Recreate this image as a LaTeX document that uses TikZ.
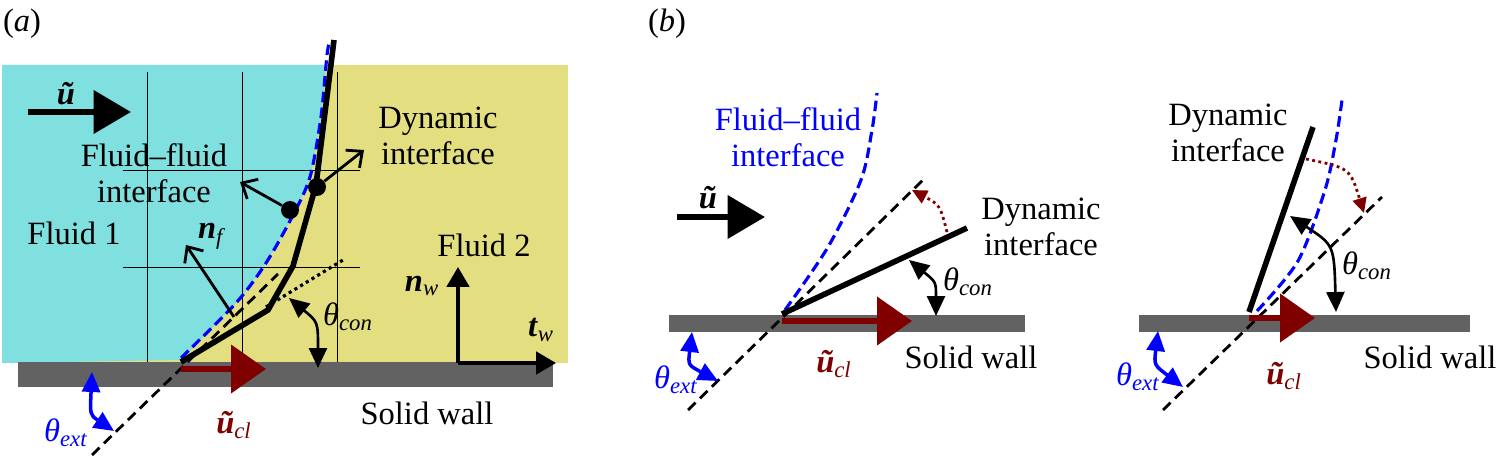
\documentclass[tikz,border=0pt]{standalone}
\usepackage{fontspec}
\setmainfont{Liberation Serif}
\usetikzlibrary{arrows.meta}
\definecolor{cy}{HTML}{80E0DF}
\definecolor{ye}{HTML}{E3DF80}
\definecolor{wall}{HTML}{626262}
\definecolor{dred}{HTML}{800000}
\newcommand{\vu}{\textbf{\textit{ũ}}}
\newcommand{\thx}[1]{\textit{θ}\textsubscript{\textit{#1}}}
\begin{document}
\begin{tikzpicture}[x=0.02cm,y=-0.02cm,
  txt/.style={font=\fontsize{18.5}{20.5}\selectfont, align=center, inner sep=0},
  big/.style={line width=3.4pt,-{Triangle[length=0.75cm,width=0.85cm]}},
  ucl/.style={dred,line width=3.4pt,-{Triangle[length=0.7cm,width=0.95cm]}},
  ax/.style={line width=2pt,-{Triangle[length=0.4cm,width=0.45cm]}},
  nrm/.style={line width=1.6pt,-{Straight Barb[length=0.25cm,width=0.45cm]}},
  ang/.style={line width=1.5pt,{Triangle[length=0.4cm,width=0.36cm]}-{Triangle[length=0.4cm,width=0.36cm]}},
  angb/.style={ang,blue,line width=2pt},
  red dot/.style={dred,line width=1.6pt,dotted,-{Triangle[length=0.3cm,width=0.28cm]}},
  bl/.style={blue,line width=1.8pt,dash pattern=on 6pt off 3pt},
  kd/.style={black,line width=1.6pt,dash pattern=on 6pt off 3.5pt},
  thick line/.style={line width=3.2pt},
  wl/.style={fill=wall,draw=none}]
\useasboundingbox (0,0) rectangle (1498,469);
% ---------- panel a ----------
\node[txt] (la) at (22,24) {(\textit{a})};
\fill[ye] (2,65) rectangle (568,363);
\fill[cy] (2,65) -- (326,65) -- plot[smooth] coordinates {(326,65) (321,117) (310,177) (292,217) (266,263) (236,303) (181,360)} -- (2,363) -- cycle;
\foreach \x in {147,242,337} \draw[line width=0.4pt] (\x,72) -- (\x,363);
\foreach \y in {170,267} \draw[line width=0.4pt] (123,\y) -- (360,\y);
\fill[wall] (18,362) rectangle (553,387);
\coordinate (cla) at (181,362);
\coordinate (tka) at (92,455);
\coordinate (tkb) at (278,274);
\draw[kd] (tka) -- (tkb);
\draw[line width=1.8pt,dotted] (266,307) -- (343,260);
\draw[bl] plot[smooth] coordinates {(181,358) (236,303) (266,263) (292,217) (310,177) (321,117) (327,55) (330,40)};
\draw[thick line] (181,362) -- (268,310) -- (293,266) -- (316,185) -- (334,40);
\node[circle,fill=black,inner sep=0,minimum size=0.36cm] (d1) at (290,210) {};
\node[circle,fill=black,inner sep=0,minimum size=0.36cm] (d2) at (317,187) {};
\coordinate (n1) at (240,182);
\coordinate (n2) at (364,150);
\draw[nrm] (d1) -- (n1);
\draw[nrm] (d2) -- (n2);
\coordinate (nfa) at (234,317); \coordinate (nfb) at (186,245);
\draw[nrm] (nfa) -- (nfb);
\node[txt] (nf) at (212,236) {\textbf{\textit{n}}\textsubscript{\textit{f}}};
\coordinate (ua) at (28,112); \coordinate (ub) at (131,112);
\draw[big] (ua) -- (ub);
\node[txt] (ut) at (66,94) {\vu};
\coordinate (uca) at (181,369); \coordinate (ucb) at (266,369);
\draw[ucl] (uca) -- (ucb);
\node[txt,text=dred] (uct) at (234,425) {\vu\textsubscript{\textit{cl}}};
\coordinate (o) at (458,363); \coordinate (nw) at (458,267); \coordinate (tw) at (556,363);
\draw[ax] (o) -- (nw);
\draw[ax] (o) -- (tw);
\node[txt] (nwt) at (422,286) {\textbf{\textit{n}}\textsubscript{\textit{w}}};
\node[txt] (twt) at (541,330) {\textbf{\textit{t}}\textsubscript{\textit{w}}};
\coordinate (ca1) at (289,298); \coordinate (ca2) at (318,368);
\draw[ang] (ca1) .. controls (318,322) .. (ca2);
\node[txt] (tca) at (348,317) {\thx{con}};
\coordinate (ea1) at (92,372); \coordinate (ea2) at (114,431);
\draw[angb] (ea1) .. controls (90,415) .. (ea2);
\node[txt,text=blue] (tea) at (66,433) {\thx{ext}};
\node[txt] (f1) at (74,233) {Fluid 1};
\node[txt] (f2) at (484,245) {Fluid 2};
\node[txt] (ffa) at (154,173) {Fluid–fluid\\interface};
\node[txt] (dia) at (438,136) {Dynamic\\interface};
\node[txt] (swa) at (427,413) {Solid wall};
% ---------- panel b ----------
\node[txt] (lb) at (667,24) {(\textit{b})};
% b1
\fill[wall] (669,315) rectangle (1025,332);
\draw[kd] (688,410) -- (923,180);
\draw[bl] plot[smooth] coordinates {(785,310) (828,247) (861,180) (872,130) (877,93)};
\coordinate (c1) at (782,314); \coordinate (d1e) at (967,228);
\draw[thick line] (c1) -- (d1e);
\draw[red dot] (947,232) .. controls (940,205) .. (912,190);
\draw[ucl] (782,321) -- (912,321);
\node[txt,text=dred] (uc1) at (834,364) {\vu\textsubscript{\textit{cl}}};
\draw[ang] (909,260) .. controls (936,282) .. (936,316);
\node[txt] (tc1) at (968,282) {\thx{con}};
\draw[angb] (692,332) .. controls (688,365) .. (718,381);
\node[txt,text=blue] (te1) at (676,380) {\thx{ext}};
\draw[big] (677,217) -- (765,217);
\node[txt] (ut1) at (708,198) {\vu};
\node[txt,text=blue] (ff1) at (788,137) {Fluid–fluid\\interface};
\node[txt] (di1) at (1041,227) {Dynamic\\interface};
\node[txt] (sw1) at (971,357) {Solid wall};
% b2
\fill[wall] (1139,315) rectangle (1470,332);
\draw[kd] (1163,410) -- (1382,197);
\draw[bl] plot[smooth] coordinates {(1257,311) (1298,261) (1325,190) (1336,140) (1342,100)};
\coordinate (c2) at (1249,312); \coordinate (d2e) at (1313,127);
\draw[thick line] (c2) -- (d2e);
\draw[red dot] (1306,159) .. controls (1350,168) .. (1364,213);
\draw[ucl] (1249,318) -- (1315,318);
\node[txt,text=dred] (uc2) at (1284,376) {\vu\textsubscript{\textit{cl}}};
\draw[ang] (1290,216) .. controls (1334,245) .. (1336,312);
\node[txt] (tc2) at (1367,266) {\thx{con}};
\draw[angb] (1158,331) .. controls (1154,365) .. (1183,387);
\node[txt,text=blue] (te2) at (1138,377) {\thx{ext}};
\node[txt] (di2) at (1228,133) {Dynamic\\interface};
\node[txt] (sw2) at (1430,357) {Solid wall};
\end{tikzpicture}
\end{document}
